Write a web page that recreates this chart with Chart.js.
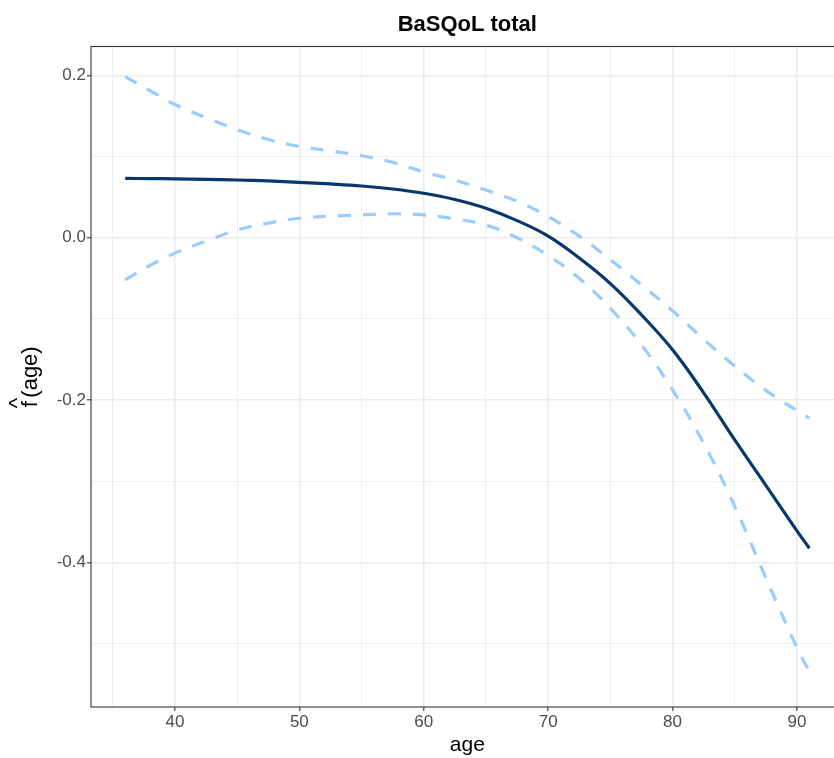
<!DOCTYPE html>
<html>
<head>
<meta charset="utf-8">
<script src="https://cdn.jsdelivr.net/npm/chart.js@4/dist/chart.umd.min.js"></script>
<style>
  html, body { margin: 0; padding: 0; background: #fff; width: 834px; height: 758px; overflow: hidden; }
  #wrap { position: absolute; left: 0; top: 0; width: 850px; height: 758px; }
</style>
</head>
<body>
<div id="wrap"><canvas id="c" width="850" height="758"></canvas></div>
<script>
// ---- data ----
const ages  = [36, 38, 40, 42.5, 45, 47.5, 50, 52.5, 55, 57.5, 60, 62.5, 65, 67.5, 70, 72.5, 75, 77.5, 80, 82.5, 85, 87.5, 90, 91];
const fitValues   = [0.0731, 0.0728, 0.0725, 0.0719, 0.0711, 0.0699, 0.0682, 0.0662, 0.0637, 0.0600, 0.0547, 0.0470, 0.0362, 0.0210, 0.0020, -0.0250, -0.0565, -0.0950, -0.1380, -0.1910, -0.2490, -0.3050, -0.3610, -0.3825];
const upperValues = [0.1983, 0.181, 0.164, 0.148, 0.133, 0.121, 0.1125, 0.107, 0.101, 0.093, 0.081, 0.071, 0.0587, 0.045, 0.026, 0.002, -0.027, -0.058, -0.090, -0.125, -0.158, -0.188, -0.213, -0.2224];
const lowerValues = [-0.052, -0.034, -0.019, -0.004, 0.0095, 0.018, 0.024, 0.0265, 0.028, 0.0295, 0.028, 0.023, 0.0156, 0.000, -0.022, -0.050, -0.087, -0.132, -0.1875, -0.253, -0.331, -0.419, -0.505, -0.5345];
const xTickValues = [35, 40, 45, 50, 55, 60, 65, 70, 75, 80, 85, 90];
const xMajorTicks = [40, 50, 60, 70, 80, 90];
const yTickValues = [-0.5, -0.4, -0.3, -0.2, -0.1, 0.0, 0.1, 0.2];
const yMajorTicks = [-0.4, -0.2, 0.0, 0.2];
const chartTitle = 'BaSQoL total';
const xTitle = 'age';
const yTitleHat = '^';
const yTitleFn = 'f';
const yTitleArg = '(age)';

const toPts = (vals) => ages.map((a, i) => ({x: a, y: vals[i]}));
const isMajor = (list, v) => list.some(m => Math.abs(m - v) < 1e-9);
const FONT = '"Liberation Sans", Arial, Helvetica, sans-serif';

const panelBorder = {
  id: 'panelBorder',
  afterDraw(chart) {
    const a = chart.chartArea, ctx = chart.ctx;
    ctx.save();
    ctx.strokeStyle = '#333333';
    ctx.lineWidth = 1.1;
    ctx.strokeRect(a.left, a.top, a.right - a.left, a.bottom - a.top);
    ctx.restore();
  }
};

// y-axis title written like R plotmath hat(f)(age), centred on the panel
const yAxisTitle = {
  id: 'yAxisTitle',
  afterDraw(chart) {
    const a = chart.chartArea, ctx = chart.ctx;
    ctx.save();
    ctx.font = '22px ' + FONT;
    const argStart = 9.5;
    const total = argStart + ctx.measureText(yTitleArg).width;
    const startY = (a.top + a.bottom) / 2 + total / 2;
    ctx.translate(37, startY);
    ctx.rotate(-Math.PI / 2);
    ctx.fillStyle = '#000';
    ctx.textBaseline = 'alphabetic';
    ctx.textAlign = 'left';
    ctx.fillText(yTitleFn, 0, 0);
    ctx.fillText(yTitleArg, argStart, 0);
    ctx.textAlign = 'center';
    ctx.fillText(yTitleHat, 4, -13);
    ctx.restore();
  }
};

new Chart(document.getElementById('c'), {
  type: 'line',
  data: {
    datasets: [
      { label: 'upper', data: toPts(upperValues), borderColor: '#99CCFF', borderWidth: 3.2, borderDash: [13, 12], borderCapStyle: 'butt', pointRadius: 0, tension: 0.4, fill: false },
      { label: 'lower', data: toPts(lowerValues), borderColor: '#99CCFF', borderWidth: 3.2, borderDash: [13, 12], borderCapStyle: 'butt', pointRadius: 0, tension: 0.4, fill: false },
      { label: 'fit', data: toPts(fitValues), borderColor: '#08376B', borderWidth: 3.2, pointRadius: 0, tension: 0.4, fill: false }
    ]
  },
  options: {
    responsive: false,
    animation: false,
    devicePixelRatio: 1,
    layout: { padding: { left: 0, right: 6.4, top: 0, bottom: 0 } },
    plugins: {
      legend: { display: false },
      tooltip: { enabled: false },
      title: {
        display: true, text: chartTitle, fullSize: false, color: '#000',
        font: { family: FONT, size: 22, weight: 'bold' },
        padding: { top: 12.2, bottom: 7.9 }
      }
    },
    scales: {
      x: {
        type: 'linear', min: 33.25, max: 93.75,
        afterBuildTicks: (s) => { s.ticks = xTickValues.map(v => ({value: v})); },
        afterFit: (s) => { s.height = 51; },
        grid: {
          color: '#EBEBEB',
          lineWidth: (c) => isMajor(xMajorTicks, c.tick.value) ? 1.6 : 0.8,
          tickColor: (c) => isMajor(xMajorTicks, c.tick.value) ? '#333333' : 'rgba(0,0,0,0)',
          tickWidth: 1.1,
          tickLength: 4,
          drawTicks: true
        },
        border: { display: false },
        ticks: {
          autoSkip: false, maxRotation: 0, padding: 1, color: '#4D4D4D',
          font: { family: FONT, size: 17 },
          callback: (v) => isMajor(xMajorTicks, v) ? String(v) : ''
        },
        title: { display: true, text: xTitle, color: '#000', font: { family: FONT, size: 21 }, padding: { top: 0, bottom: 0 } }
      },
      y: {
        type: 'linear', min: -0.578, max: 0.2355,
        afterBuildTicks: (s) => { s.ticks = yTickValues.map(v => ({value: v})); },
        afterFit: (s) => { s.width = 91; },
        grid: {
          color: '#EBEBEB',
          lineWidth: (c) => isMajor(yMajorTicks, c.tick.value) ? 1.6 : 0.8,
          tickColor: (c) => isMajor(yMajorTicks, c.tick.value) ? '#333333' : 'rgba(0,0,0,0)',
          tickWidth: 1.1,
          tickLength: 4,
          drawTicks: true
        },
        border: { display: false },
        ticks: {
          autoSkip: false, padding: 1, color: '#4D4D4D',
          font: { family: FONT, size: 17 },
          callback: (v) => isMajor(yMajorTicks, v) ? v.toFixed(1) : ''
        },
        title: { display: false }
      }
    }
  },
  plugins: [panelBorder, yAxisTitle]
});
</script>
</body>
</html>
